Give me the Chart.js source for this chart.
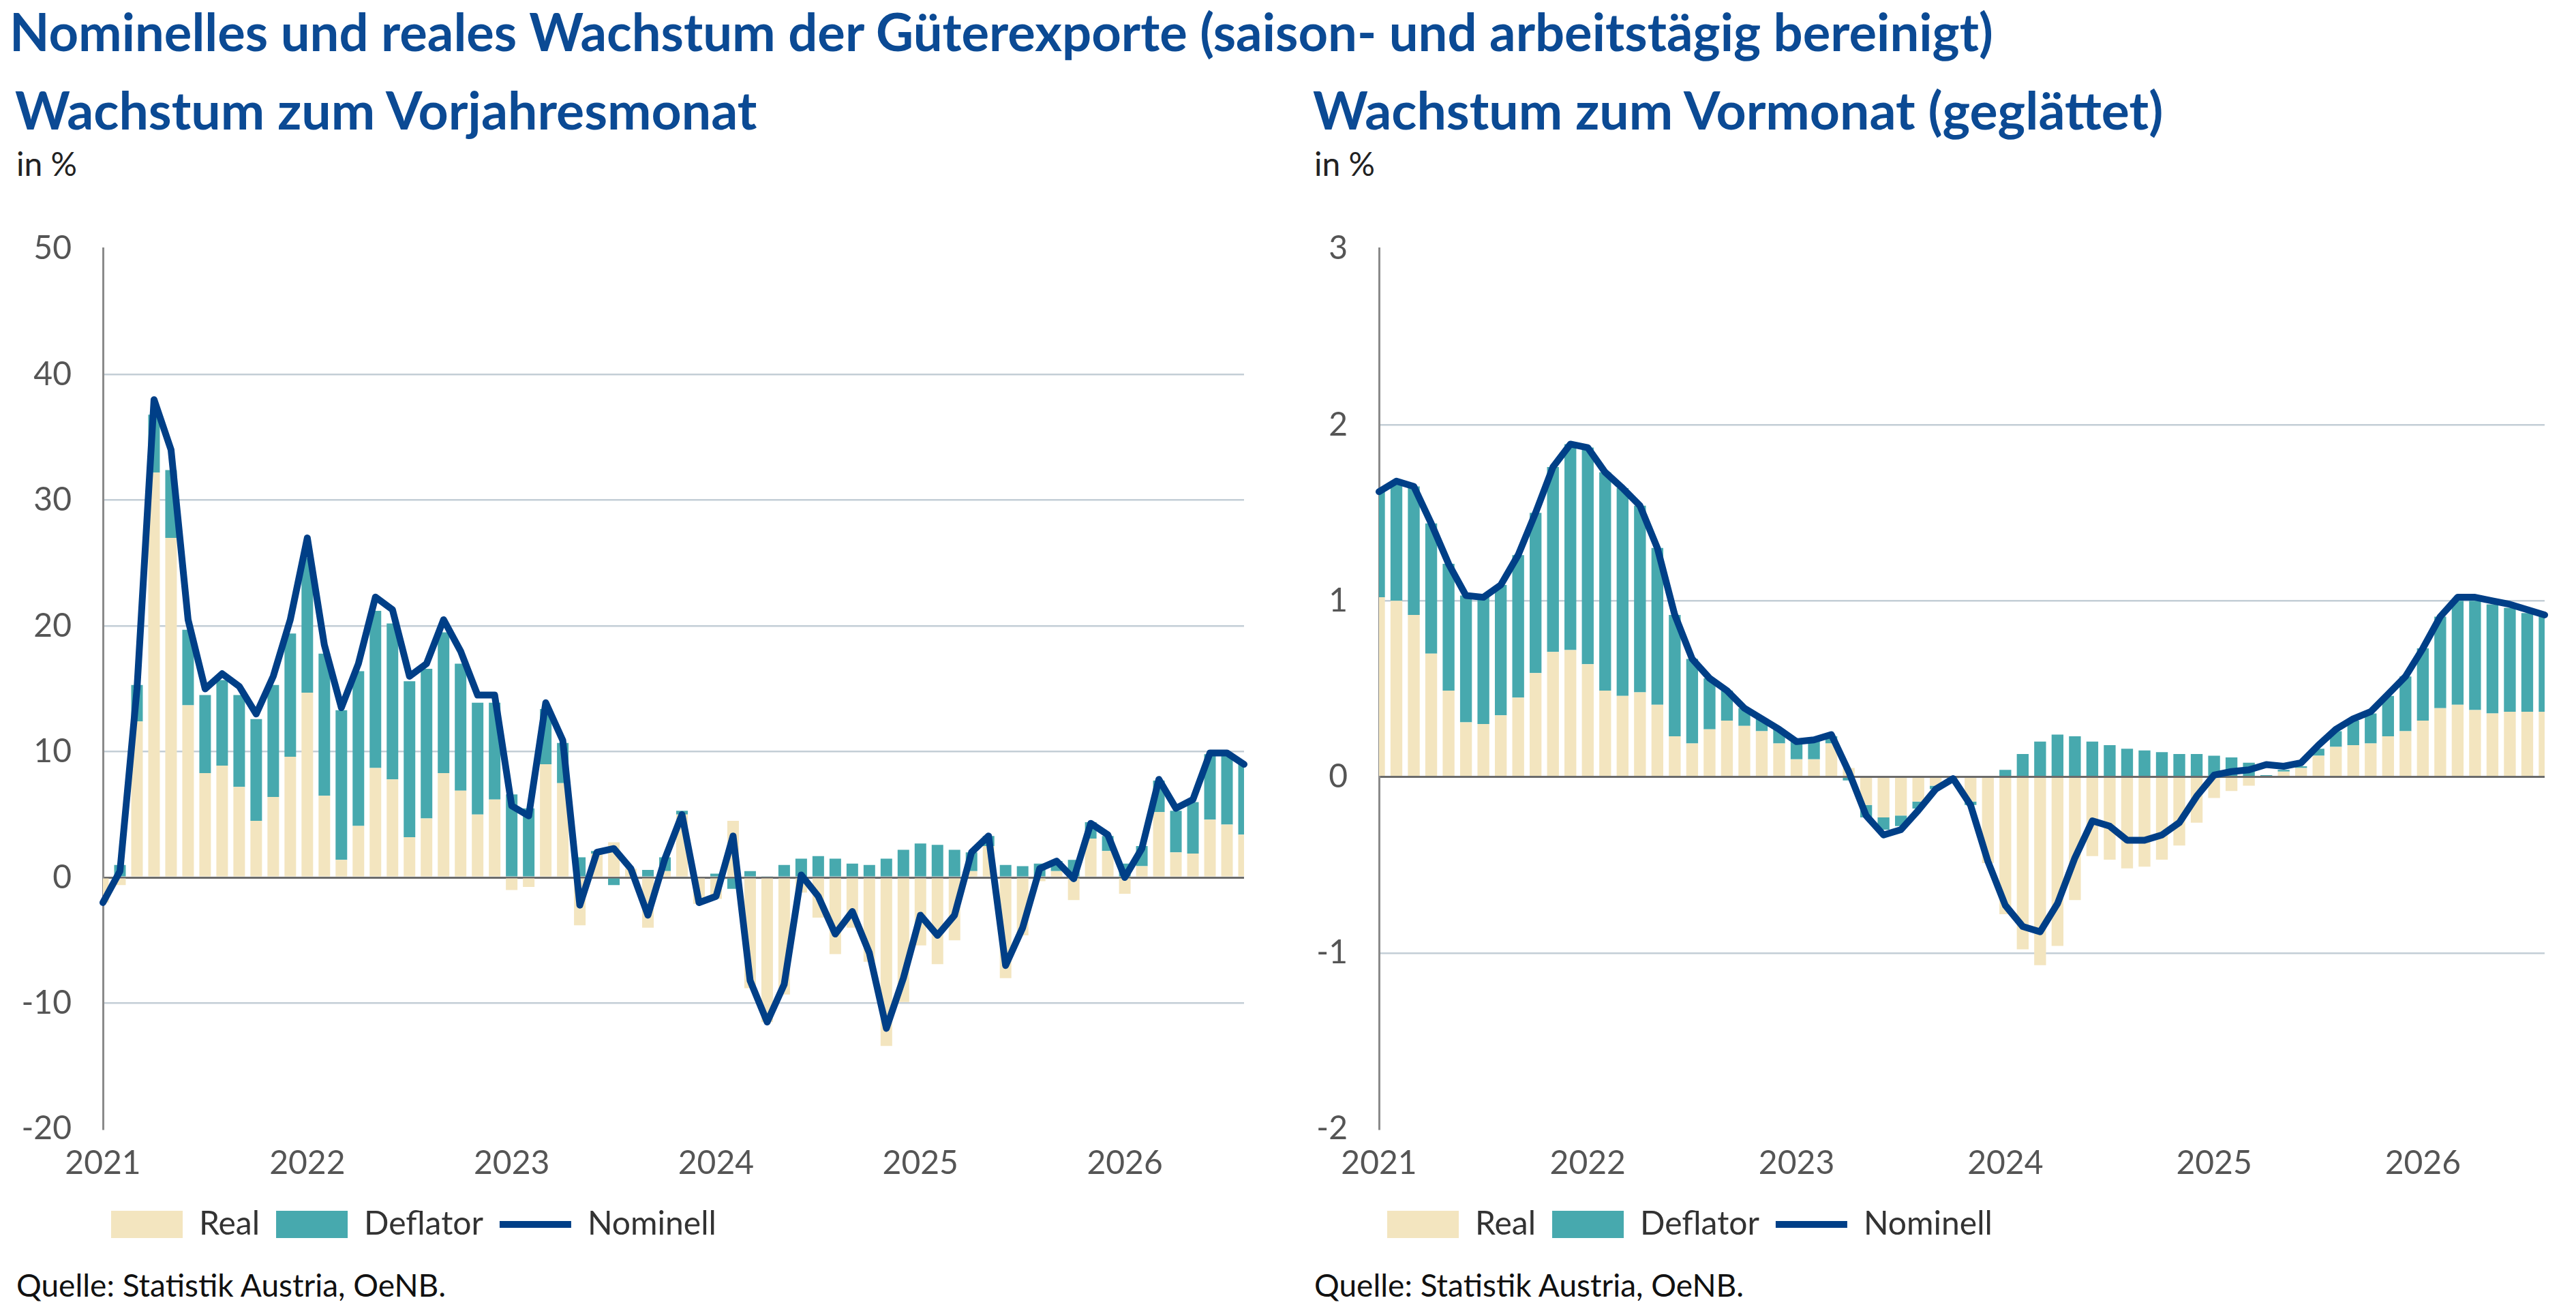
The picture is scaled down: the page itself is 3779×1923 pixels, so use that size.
<!DOCTYPE html>
<html><head><meta charset="utf-8">
<script src="https://cdn.jsdelivr.net/npm/chart.js@4"></script>
<style>
body{margin:0;width:3779px;height:1923px;background:#fff;position:relative;overflow:hidden;font-family:Lato,"Open Sans",sans-serif;}
.t{position:absolute;line-height:1;white-space:nowrap;}
.main{left:14px;top:8px;font-size:76px;font-weight:700;color:#0b4a94;}
.sub{top:122px;font-size:77px;font-weight:700;color:#0b4a94;}
.unit{top:216px;font-size:48px;color:#222;}
.src{top:1862px;font-size:46px;color:#111;}
canvas{position:absolute;}
</style></head><body>
<div class="t main">Nominelles und reales Wachstum der Güterexporte (saison- und arbeitstägig bereinigt)</div>
<div class="t sub" style="left:22px">Wachstum zum Vorjahresmonat</div>
<div class="t sub" style="left:1926px">Wachstum zum Vormonat (geglättet)</div>
<div class="t unit" style="left:24px">in %</div>
<div class="t unit" style="left:1928px">in %</div>
<div class="t src" style="left:24px">Quelle: Statistik Austria, OeNB.</div>
<div class="t src" style="left:1928px">Quelle: Statistik Austria, OeNB.</div>
<div style="position:absolute;left:0;top:290px;width:1880px;height:1540px"><canvas id="c1"></canvas></div>
<div style="position:absolute;left:1880px;top:290px;width:1899px;height:1540px"><canvas id="c2"></canvas></div>
<script>
const years = [2021,2022,2023,2024,2025,2026];
const months = [];
for (const y of years) for (let m = 1; m <= 12; m++) if (!(y === 2026 && m > 8)) months.push(y + '-' + String(m).padStart(2,'0'));

// Left: growth vs. previous-year month (%)
const yoyReal = [-2,-0.6,12.4,32.2,27,13.7,8.3,8.9,7.2,4.5,6.4,9.6,14.7,6.5,1.4,4.1,8.7,7.8,3.2,4.7,8.3,6.9,5,6.2,
 -1,-0.75,9,7.5,-3.8,1.9,2.8,0.7,-4,0.5,5,-2.1,-1.7,4.5,-8.8,-11.5,-9.3,-1.2,-3.2,-6.1,-4,-6.7,-13.4,-9.9,
 -5.4,-6.9,-5,0.5,2.5,-8,-4.6,-0.3,0.5,-1.8,3.1,2.1,-1.3,0.9,5.2,2,1.9,4.6,4.2,3.4];
const yoyDeflator = [0,1.0,2.9,4.6,5.4,6,6.2,6.8,7.3,8.1,8.9,9.8,10.7,11.3,11.9,12.3,12.5,12.4,12.4,11.9,11.2,10.1,8.9,7.7,
 6.6,5.5,4.4,3.2,1.6,0.2,-0.6,0,0.6,1.1,0.3,0,0.3,-0.9,0.5,0.1,1.0,1.5,1.7,1.5,1.1,1.0,1.5,2.2,
 2.7,2.6,2.2,1.5,0.8,1,0.9,1.1,0.8,1.4,1.3,1.2,1.1,1.6,2.5,3.3,4.1,5.2,5.5,5.7];
const yoyNominal = [-2,0.5,15,38,34,20.5,15,16.2,15.2,13,16,20.5,27,18.5,13.5,17,22.3,21.3,16,17,20.5,18,14.5,14.5,
 5.7,4.9,13.9,10.9,-2.2,2,2.3,0.7,-3,1.5,5,-2,-1.5,3.3,-8.2,-11.5,-8.5,0.2,-1.5,-4.5,-2.7,-6,-12,-8,
 -3,-4.6,-3,2,3.3,-7,-4,0.7,1.3,-0.1,4.3,3.4,0,2.3,7.8,5.5,6.2,9.9,9.9,9];

// Right: growth vs. previous month, smoothed (%)
const momReal = [1.02,1.0,0.92,0.70,0.49,0.31,0.30,0.35,0.45,0.59,0.71,0.72,0.64,0.49,0.46,0.48,0.41,0.23,0.19,0.27,0.32,0.29,0.26,0.19,
 0.10,0.10,0.19,0.05,-0.16,-0.23,-0.22,-0.14,-0.05,-0.01,-0.14,-0.49,-0.78,-0.98,-1.07,-0.96,-0.70,-0.45,-0.47,-0.52,-0.51,-0.47,-0.39,-0.26,
 -0.12,-0.08,-0.05,0.0,0.03,0.05,0.12,0.17,0.18,0.19,0.23,0.26,0.32,0.39,0.41,0.38,0.36,0.37,0.37,0.37];
const momDeflator = [0.6,0.66,0.73,0.74,0.72,0.72,0.72,0.74,0.81,0.91,1.05,1.17,1.23,1.24,1.18,1.06,0.89,0.69,0.48,0.29,0.17,0.10,0.07,0.08,
 0.1,0.11,0.04,-0.02,-0.07,-0.07,-0.06,-0.04,-0.02,0,-0.02,0,0.04,0.13,0.20,0.24,0.23,0.20,0.18,0.16,0.15,0.14,0.13,0.13,
 0.12,0.11,0.08,0.01,0.01,0.01,0.04,0.09,0.14,0.17,0.23,0.31,0.41,0.52,0.59,0.62,0.62,0.59,0.56,0.55];
const momNominal = [1.62,1.68,1.65,1.44,1.21,1.03,1.02,1.09,1.26,1.5,1.76,1.89,1.87,1.73,1.64,1.54,1.30,0.92,0.67,0.56,0.49,0.39,0.33,0.27,
 0.20,0.21,0.24,0.03,-0.22,-0.33,-0.30,-0.19,-0.07,-0.01,-0.16,-0.48,-0.73,-0.85,-0.88,-0.72,-0.46,-0.25,-0.28,-0.36,-0.36,-0.33,-0.26,-0.11,
 0.01,0.03,0.04,0.07,0.06,0.08,0.18,0.27,0.33,0.37,0.47,0.57,0.73,0.91,1.02,1.02,1.00,0.98,0.95,0.92];

const C_REAL = '#f3e5bf', C_DEFL = '#47a9ae', C_NOM = '#003f87';
const FONT = 'Lato';

function makeChart(id, real, defl, nom, ymin, ymax, step, leftW, padR) {
  const gridColor = ctx => {
    const v = ctx.tick && ctx.tick.value;
    if (v === 0) return '#6b6b6b';
    if (v === ymin || v === ymax) return 'rgba(0,0,0,0)';
    return '#c3ced6';
  };
  return new Chart(document.getElementById(id), {
    data: {
      labels: months,
      datasets: [
        {type:'bar', label:'Real', data: real, backgroundColor: C_REAL, stack:'b', order:1, pointStyle:'rect',
         barPercentage:0.68, categoryPercentage:1},
        {type:'bar', label:'Deflator', data: defl, backgroundColor: C_DEFL, stack:'b', order:1, pointStyle:'rect',
         barPercentage:0.68, categoryPercentage:1},
        {type:'line', label:'Nominell', data: nom, borderColor: C_NOM, backgroundColor: C_NOM, borderWidth: 10,
         pointRadius:0, tension:0, stack:'n', order:0, pointStyle:'line', borderJoinStyle:'round', borderCapStyle:'round'}
      ]
    },
    options: {
      responsive:true, maintainAspectRatio:false, animation:false,
      layout:{padding:{left:0, right:padR, top:17, bottom:0}},
      plugins:{
        tooltip:{enabled:false},
        legend:{position:'bottom', align:'start',
          labels:{usePointStyle:true, pointStyleWidth:105, boxHeight:40, padding:24, color:'#333',
            font:{family:FONT, size:48}, sort:(a,b)=>a.datasetIndex-b.datasetIndex}}
      },
      scales:{
        x:{type:'category', stacked:true, offset:false,
          grid:{display:false, drawTicks:false}, border:{display:false},
          ticks:{autoSkip:false, maxRotation:0, padding:22, color:'#555', font:{family:FONT, size:48},
            callback:(v,i)=> i % 12 === 0 ? months[i].slice(0,4) : ''},
          afterFit: s => { s.height = 92; }},
        y:{stacked:true, min:ymin, max:ymax,
          ticks:{stepSize:step, padding:46, color:'#555', font:{family:FONT, size:48}},
          grid:{color:gridColor, lineWidth: c => (c.tick && c.tick.value === 0) ? 3 : 2.5, drawTicks:false},
          border:{display:true, color:'#8a8a8a', width:3},
          afterFit: s => { s.width = leftW; }}
      }
    },
    plugins:[{id:'legendShift', afterLayout(chart){ if (chart.legend) { chart.legend.left = chart.chartArea.left - 12; } }}]
  });
}
makeChart('c1', yoyReal, yoyDeflator, yoyNominal, -20, 50, 10, 151, 55);
makeChart('c2', momReal, momDeflator, momNominal, -2, 3, 1, 143, 46);
</script></body></html>
